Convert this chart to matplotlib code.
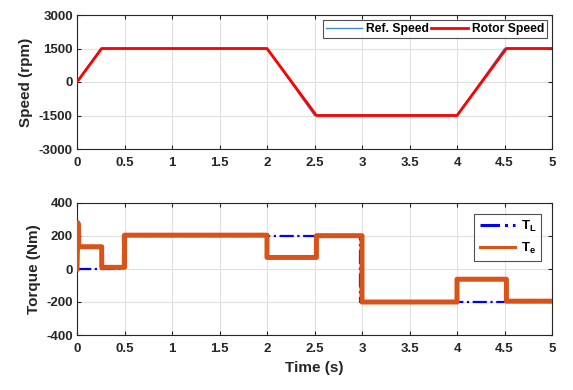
import matplotlib
matplotlib.use("Agg")
import matplotlib.pyplot as plt
import numpy as np

plt.rcParams['font.family'] = ['Liberation Sans', 'DejaVu Sans']
plt.rcParams['font.weight'] = 'bold'
plt.rcParams['axes.unicode_minus'] = False

# Speed profile (rpm)
speed_t = [0, 0.25, 2.0, 2.5, 4.0, 4.5, 5.0]
ref_speed = [0, 1500, 1500, -1500, -1500, 1500, 1500]
rotor_t = [0, 0.26, 2.0, 2.52, 4.0, 4.52, 5.0]
rotor_speed = [0, 1500, 1500, -1500, -1500, 1500, 1500]

# Torque profiles (Nm)
tl_t = [0, 0.48, 0.48, 2.98, 2.98, 5.0]
tl_val = [0, 0, 200, 200, -200, -200]
te_t = [0, 0.01, 0.02, 0.26, 0.26, 0.5, 0.5, 2.0, 2.0, 2.52, 2.52, 3.0, 3.0, 4.0, 4.0, 4.52, 4.52, 5.0]
te_val = [0, 280, 135, 135, 10, 10, 205, 205, 70, 70, 202, 202, -200, -200, -62, -62, -195, -195]

xticks = [0, 0.5, 1, 1.5, 2, 2.5, 3, 3.5, 4, 4.5, 5]
xticklabels = ['0', '0.5', '1', '1.5', '2', '2.5', '3', '3.5', '4', '4.5', '5']

tc = '#262626'
fig = plt.figure(figsize=(5.73, 3.9), dpi=100)
ax1 = fig.add_axes([77/573, 1-149/390, 475/573, 134/390])
ax2 = fig.add_axes([77/573, 1-335/390, 475/573, 132/390])

ax1.plot(speed_t, ref_speed, color='#3a8fd8', lw=1.0, label='Ref. Speed', zorder=3)
ax1.plot(rotor_t, rotor_speed, color='#ff0000', lw=2.0, label='Rotor Speed', zorder=4)
ax1.set_ylim(-3000, 3000)
ax1.set_yticks([-3000, -1500, 0, 1500, 3000])
ax1.set_ylabel('Speed (rpm)', fontsize=11, fontweight='bold', color=tc, labelpad=4)
leg1 = ax1.legend(loc='upper right', ncol=2, fontsize=8.7, frameon=True, fancybox=False,
                  handlelength=3.0, columnspacing=0.15, handletextpad=0.35,
                  borderpad=0.25, borderaxespad=0.4)
leg1.get_frame().set_edgecolor('#262626')
leg1.get_frame().set_linewidth(0.8)

ax2.plot(tl_t, tl_val, color='#0000ff', lw=1.6, ls='-.', label='T$_\\mathregular{L}$', zorder=3)
ax2.plot(te_t, te_val, color='#d95319', lw=3.6, label='T$_\\mathregular{e}$', zorder=4)
ax2.set_ylim(-400, 400)
ax2.set_yticks([-400, -200, 0, 200, 400])
ax2.set_ylabel('Torque (Nm)', fontsize=11, fontweight='bold', color=tc, labelpad=4)
ax2.set_xlabel('Time (s)', fontsize=11, fontweight='bold', color=tc, labelpad=4)
leg2 = ax2.legend(loc='upper right', fontsize=9.5, frameon=True, fancybox=False,
                  handlelength=2.7, handletextpad=0.4, borderpad=0.4,
                  borderaxespad=0.8, labelspacing=0.5)
leg2.get_frame().set_edgecolor('#262626')
leg2.get_frame().set_linewidth(0.8)
for h in leg2.get_lines():
    h.set_linewidth(2.2)

for ax in (ax1, ax2):
    ax.set_xlim(0, 5)
    ax.set_xticks(xticks)
    ax.set_xticklabels(xticklabels)
    ax.grid(True, color='#e0e0e0', lw=0.8)
    ax.set_axisbelow(True)
    ax.tick_params(direction='in', length=3, width=0.8, colors=tc, labelsize=9.5,
                   top=True, right=True)
    ax.tick_params(axis='x', pad=6)
    ax.tick_params(axis='y', pad=3)
    for lab in ax.get_xticklabels() + ax.get_yticklabels():
        lab.set_fontweight('bold')
    for s in ax.spines.values():
        s.set_color(tc)
        s.set_linewidth(0.8)

fig.savefig('out.png', dpi=100)
